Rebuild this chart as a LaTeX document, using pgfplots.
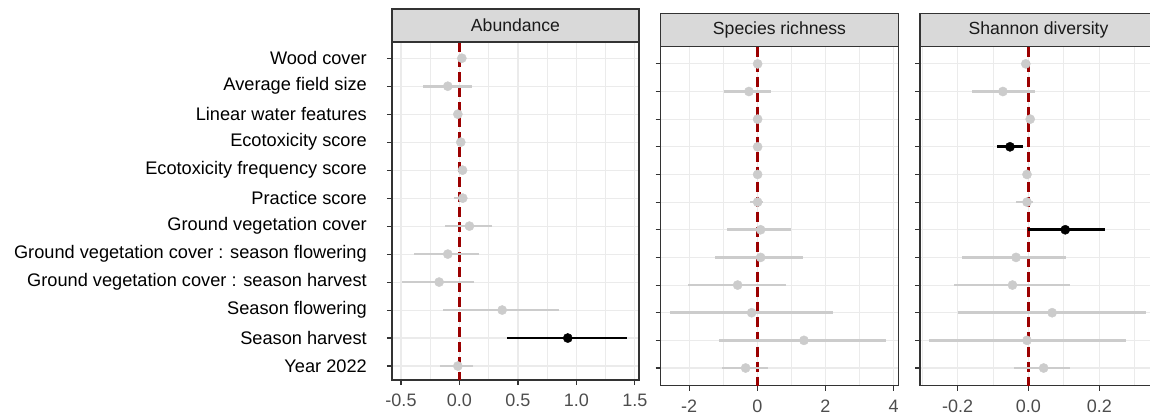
\documentclass[border=0pt]{standalone}
\usepackage{fontspec}
\setmainfont{Liberation Sans}
\usepackage{pgfplots}
\usepackage{pgfplotstable}
\pgfplotsset{compat=1.18}
\definecolor{frame}{HTML}{333333}
\definecolor{gridc}{HTML}{EBEBEB}
\definecolor{stripc}{HTML}{D9D9D9}
\definecolor{ptgrey}{HTML}{CCCCCC}
\definecolor{vred}{HTML}{9B0000}
\definecolor{ticktext}{HTML}{4D4D4D}
\definecolor{striptext}{HTML}{1A1A1A}

% Abundance
\pgfplotstableread{
row est lo hi
1 0.020 0.005 0.035
2 -0.100 -0.310 0.105
3 -0.014 -0.030 0.000
4 0.011 -0.005 0.025
5 0.026 0.010 0.040
6 0.028 -0.046 0.068
7 0.085 -0.120 0.280
8 -0.100 -0.385 0.168
9 -0.174 -0.490 0.120
10 0.365 -0.142 0.855
12 -0.014 -0.168 0.114
}\abns
\pgfplotstableread{
row est lo hi
11 0.926 0.405 1.430
}\absig
% Species richness
\pgfplotstableread{
row est lo hi
1 0.010 -0.020 0.040
2 -0.245 -0.980 0.390
3 0.010 -0.020 0.040
4 0.010 -0.020 0.040
5 0.010 -0.020 0.040
6 0.010 -0.215 0.157
7 0.098 -0.880 0.980
8 0.098 -1.240 1.350
9 -0.577 -2.030 0.840
10 -0.166 -2.560 2.210
11 1.370 -1.115 3.780
12 -0.342 -1.050 0.300
}\srns
% Shannon diversity
\pgfplotstableread{
row est lo hi
1 -0.0075 -0.012 -0.003
2 -0.072 -0.160 0.019
3 0.005 0.000 0.010
5 -0.004 -0.008 0.000
6 -0.004 -0.035 0.014
8 -0.035 -0.188 0.105
9 -0.045 -0.209 0.117
10 0.067 -0.200 0.331
11 -0.004 -0.280 0.275
12 0.043 -0.042 0.117
}\shns
\pgfplotstableread{
row est lo hi
4 -0.052 -0.089 -0.014
7 0.104 0.000 0.216
}\shsig

\pgfplotsset{forest/.style={
  scale only axis,
  y dir=reverse,
  ytick={1,...,12},
  yticklabels={},
  tick align=outside,
  xtick pos=bottom, ytick pos=left,
  major tick length=5pt,
  minor tick length=0pt,
  tick style={draw=frame, line width=1.1pt},
  axis line style={draw=frame, line width=1.3pt},
  xmajorgrids, xminorgrids, ymajorgrids,
  major grid style={draw=gridc, line width=1.1pt},
  minor grid style={draw=gridc, line width=0.7pt},
  minor x tick num=1,
  xticklabel style={font=\fontsize{18}{20}\selectfont, text=ticktext, inner sep=0pt, yshift=-9pt},
}}
\pgfplotsset{
  cibars/.style={draw=none, mark=none, forget plot,
    error bars/.cd, x dir=both, x explicit, error mark=none,
    error bar style={#1, line width=2.7pt}},
  pts/.style={only marks, mark=*, mark size=4.6pt, mark options={fill=#1, draw=#1}, forget plot},
}

\begin{document}
\begin{tikzpicture}
% ---------- Abundance ----------
\begin{axis}[forest, name=a1,
  at={(392pt,-42pt)}, anchor=north west,
  width=247pt, height=338pt,
  xmin=-0.577, xmax=1.535, ymin=0.42, ymax=12.5,
  xtick={-0.5,0,0.5,1,1.5}, xticklabels={-0.5,0.0,0.5,1.0,1.5},
  yticklabels={Wood cover,Average field size,Linear water features,Ecotoxicity score,Ecotoxicity frequency score,Practice score,Ground vegetation cover,Ground vegetation cover : season flowering,Ground vegetation cover : season harvest,Season flowering,Season harvest,Year 2022},
  yticklabel style={font=\fontsize{18.2}{20}\selectfont, text=black, inner sep=0pt, xshift=-20pt},
]
\addplot[vred, line width=2.6pt, dash pattern=on 10pt off 5pt] coordinates {(0,0.42) (0,12.5)};
\addplot[cibars=ptgrey] table[x=est, y=row, x error plus expr=\thisrow{hi}-\thisrow{est}, x error minus expr=\thisrow{est}-\thisrow{lo}] {\abns};
\addplot[pts=ptgrey] table[x=est, y=row] {\abns};
\addplot[cibars=black] table[x=est, y=row, x error plus expr=\thisrow{hi}-\thisrow{est}, x error minus expr=\thisrow{est}-\thisrow{lo}] {\absig};
\addplot[pts=black] table[x=est, y=row] {\absig};
\end{axis}
\draw[fill=stripc, draw=frame, line width=1.3pt] (a1.north west) rectangle ([yshift=33pt]a1.north east);
\node[font=\fontsize{17.6}{20}\selectfont, text=striptext] at ([yshift=16.5pt]a1.north) {Abundance};

% ---------- Species richness ----------
\begin{axis}[forest, name=a2,
  at={(660.7pt,-46.7pt)}, anchor=north west,
  width=237.6pt, height=339pt,
  xmin=-2.835, xmax=4.14, ymin=0.38, ymax=12.64,
  xtick={-2,0,2,4}, xticklabels={-2,0,2,4},
]
\addplot[vred, line width=2.6pt, dash pattern=on 10pt off 5pt] coordinates {(0,0.38) (0,12.64)};
\addplot[cibars=ptgrey] table[x=est, y=row, x error plus expr=\thisrow{hi}-\thisrow{est}, x error minus expr=\thisrow{est}-\thisrow{lo}] {\srns};
\addplot[pts=ptgrey] table[x=est, y=row] {\srns};
\end{axis}
\draw[fill=stripc, draw=frame, line width=1.3pt] (a2.north west) rectangle ([yshift=33.4pt]a2.north east);
\node[font=\fontsize{17.6}{20}\selectfont, text=striptext] at ([yshift=16.7pt]a2.north) {Species richness};

% ---------- Shannon diversity ----------
\begin{axis}[forest, name=a3,
  at={(920pt,-46.7pt)}, anchor=north west,
  width=237pt, height=339pt,
  xmin=-0.306, xmax=0.363, ymin=0.38, ymax=12.64,
  xtick={-0.2,0,0.2}, xticklabels={-0.2,0.0,0.2},
  minor xtick={-0.3,-0.1,0.1,0.3},
]
\addplot[vred, line width=2.6pt, dash pattern=on 10pt off 5pt] coordinates {(0,0.38) (0,12.64)};
\addplot[cibars=ptgrey] table[x=est, y=row, x error plus expr=\thisrow{hi}-\thisrow{est}, x error minus expr=\thisrow{est}-\thisrow{lo}] {\shns};
\addplot[pts=ptgrey] table[x=est, y=row] {\shns};
\addplot[cibars=black] table[x=est, y=row, x error plus expr=\thisrow{hi}-\thisrow{est}, x error minus expr=\thisrow{est}-\thisrow{lo}] {\shsig};
\addplot[pts=black] table[x=est, y=row] {\shsig};
\end{axis}
\draw[fill=stripc, draw=frame, line width=1.3pt] (a3.north west) rectangle ([yshift=33.4pt]a3.north east);
\node[font=\fontsize{17.6}{20}\selectfont, text=striptext] at ([yshift=16.7pt]a3.north) {Shannon diversity};

\pgfresetboundingbox
\useasboundingbox (0pt,0pt) rectangle (1150pt,-416pt);
\end{tikzpicture}
\end{document}
